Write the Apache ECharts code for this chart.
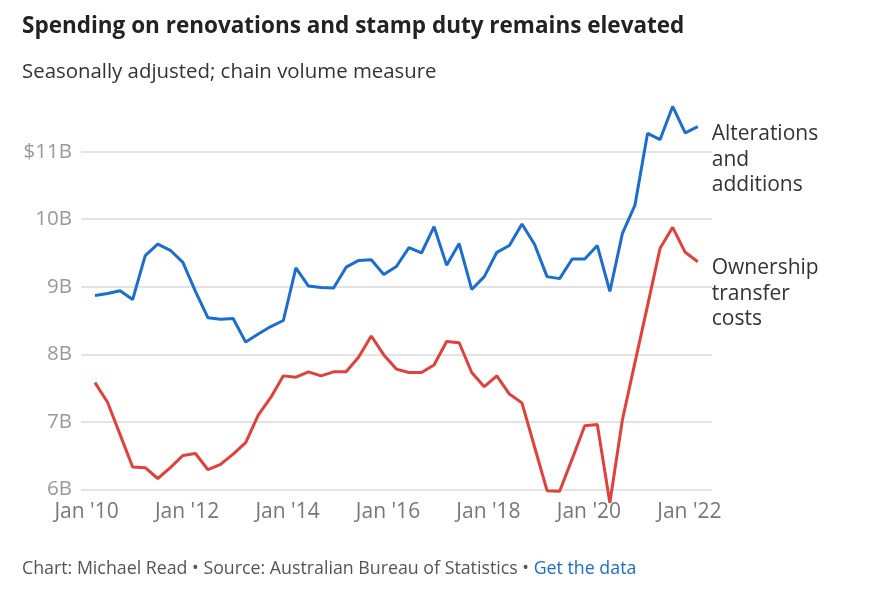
<!DOCTYPE html>
<html>
<head>
<meta charset="utf-8">
<script src="https://cdn.jsdelivr.net/npm/echarts@6/dist/echarts.min.js"></script>
<style>
html,body{margin:0;padding:0;background:#fff;}
#chart{width:870px;height:606px;}
</style>
</head>
<body>
<div id="chart"></div>
<script>
// Quarterly observations (end of quarter)
const quarters = [
  'Mar 2010','Jun 2010','Sep 2010','Dec 2010',
  'Mar 2011','Jun 2011','Sep 2011','Dec 2011',
  'Mar 2012','Jun 2012','Sep 2012','Dec 2012',
  'Mar 2013','Jun 2013','Sep 2013','Dec 2013',
  'Mar 2014','Jun 2014','Sep 2014','Dec 2014',
  'Mar 2015','Jun 2015','Sep 2015','Dec 2015',
  'Mar 2016','Jun 2016','Sep 2016','Dec 2016',
  'Mar 2017','Jun 2017','Sep 2017','Dec 2017',
  'Mar 2018','Jun 2018','Sep 2018','Dec 2018',
  'Mar 2019','Jun 2019','Sep 2019','Dec 2019',
  'Mar 2020','Jun 2020','Sep 2020','Dec 2020',
  'Mar 2021','Jun 2021','Sep 2021','Dec 2021',
  'Mar 2022'
];
// $ billions
const alterations = [
  8.87, 8.90, 8.94, 8.81, 9.46, 9.63, 9.54, 9.36,
  8.93, 8.54, 8.52, 8.53, 8.18, 8.30, 8.41, 8.50,
  9.28, 9.01, 8.99, 8.98, 9.29, 9.39, 9.40, 9.18,
  9.30, 9.58, 9.50, 9.89, 9.32, 9.64, 8.96, 9.15,
  9.51, 9.61, 9.93, 9.63, 9.15, 9.12, 9.41, 9.41,
  9.61, 8.93, 9.79, 10.21, 11.27, 11.18, 11.67, 11.28,
  11.37
];
const ownership = [
  7.58, 7.29, 6.81, 6.33, 6.32, 6.16, 6.32, 6.50,
  6.53, 6.29, 6.37, 6.52, 6.69, 7.10, 7.36, 7.68,
  7.66, 7.74, 7.68, 7.74, 7.74, 7.96, 8.27, 7.99,
  7.78, 7.73, 7.73, 7.84, 8.19, 8.17, 7.73, 7.52,
  7.68, 7.41, 7.28, 6.63, 5.98, 5.97, 6.45, 6.94,
  6.96, 5.80, 7.03, 7.88, 8.72, 9.57, 9.88, 9.51,
  9.37
];
// x-axis tick labels (January of even years), expressed as month offsets from Jan 2010
const xTickMonths = [0, 24, 48, 72, 96, 120, 144];
const xTickLabels = ["Jan '10", "Jan '12", "Jan '14", "Jan '16", "Jan '18", "Jan '20", "Jan '22"];
const yTickLabels = { 6: '6B', 7: '7B', 8: '8B', 9: '9B', 10: '10B', 11: '$11B' };

const MONTHS = ['Jan','Feb','Mar','Apr','May','Jun','Jul','Aug','Sep','Oct','Nov','Dec'];
function monthOffset(q) {
  const [m, y] = q.split(' ');
  return (parseInt(y, 10) - 2010) * 12 + MONTHS.indexOf(m);
}
const xs = quarters.map(monthOffset);
const FONT = '"Open Sans", "Noto Sans", sans-serif';

const chart = echarts.init(document.getElementById('chart'), null, { renderer: 'canvas' });
chart.setOption({
  animation: false,
  backgroundColor: '#fff',
  title: [
    {
      text: 'Spending on renovations and stamp duty remains elevated',
      left: 17, top: 10,
      textStyle: { fontFamily: FONT, fontWeight: 'bold', fontSize: 22.5, color: '#222' }
    },
    {
      text: 'Seasonally adjusted; chain volume measure',
      left: 17, top: 57,
      textStyle: { fontFamily: FONT, fontWeight: 'normal', fontSize: 20.4, color: '#333' }
    },
    {
      text: '{a|Chart: Michael Read • Source: Australian Bureau of Statistics • }{b|Get the data}',
      left: 17, top: 555,
      textStyle: {
        fontWeight: 'normal',
        rich: {
          a: { fontFamily: FONT, fontWeight: 'normal', fontSize: 17.8, color: '#555' },
          b: { fontFamily: FONT, fontWeight: 'normal', fontSize: 17.8, color: '#1a6dcc' }
        }
      }
    }
  ],
  grid: { left: 81, right: 158, top: 151.7, bottom: 116.7, containLabel: false },
  xAxis: {
    type: 'value',
    min: -1.34,
    max: 149.4,
    splitLine: { show: false },
    axisLine: { show: false },
    axisTick: { show: false },
    axisLabel: {
      customValues: xTickMonths,
      formatter: function (v) { return xTickLabels[xTickMonths.indexOf(v)] || ''; },
      fontFamily: FONT, fontSize: 21, color: '#777', margin: 12
    }
  },
  yAxis: {
    type: 'value',
    min: 6, max: 11, interval: 1,
    axisLine: { show: false },
    axisTick: { show: false },
    splitLine: { lineStyle: { color: '#e3e3e3', width: 2 } },
    axisLabel: {
      formatter: function (v) { return yTickLabels[v] || ''; },
      fontFamily: FONT, fontSize: 20.5, color: '#999', margin: 9
    }
  },
  series: [
    {
      name: 'Alterations and additions',
      type: 'line',
      data: xs.map((x, i) => [x, alterations[i]]),
      symbol: 'none',
      clip: false,
      lineStyle: { color: '#1b6ecf', width: 3 },
      endLabel: {
        show: true,
        formatter: 'Alterations\nand\nadditions',
        fontFamily: FONT, fontSize: 21, lineHeight: 25.5, color: '#333',
        distance: 0, offset: [14, 33], align: 'left', verticalAlign: 'middle'
      }
    },
    {
      name: 'Ownership transfer costs',
      type: 'line',
      data: xs.map((x, i) => [x, ownership[i]]),
      symbol: 'none',
      clip: false,
      lineStyle: { color: '#e2403a', width: 3 },
      endLabel: {
        show: true,
        formatter: 'Ownership\ntransfer\ncosts',
        fontFamily: FONT, fontSize: 21, lineHeight: 25.5, color: '#333',
        distance: 0, offset: [14, 32], align: 'left', verticalAlign: 'middle'
      }
    }
  ]
});
</script>
</body>
</html>
